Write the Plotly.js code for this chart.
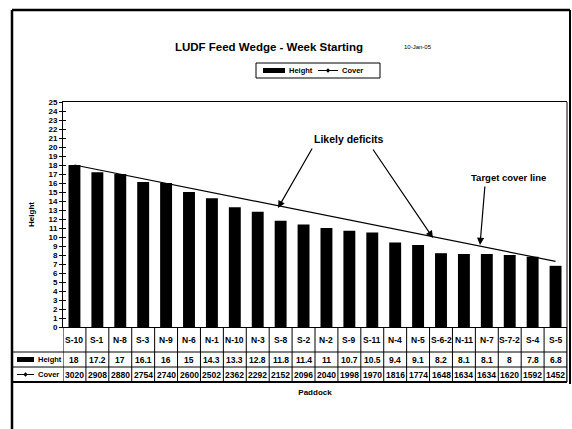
<!DOCTYPE html>
<html>
<head>
<meta charset="utf-8">
<script src="https://cdn.plot.ly/plotly-3.0.1.min.js"></script>
<style>html,body{margin:0;padding:0;background:#fff;}#chart{width:572px;height:429px;}</style>
</head>
<body>
<div id="chart"></div>
<script>
// ---- data ----
const paddocks = ['S-10','S-1','N-8','S-3','N-9','N-6','N-1','N-10','N-3','S-8','S-2','N-2','S-9','S-11','N-4','N-5','S-6-2','N-11','N-7','S-7-2','S-4','S-5'];
const heightVals = [18, 17.2, 17, 16.1, 16, 15, 14.3, 13.3, 12.8, 11.8, 11.4, 11, 10.7, 10.5, 9.4, 9.1, 8.2, 8.1, 8.1, 8, 7.8, 6.8];
const coverVals = [3020, 2908, 2880, 2754, 2740, 2600, 2502, 2362, 2292, 2152, 2096, 2040, 1998, 1970, 1816, 1774, 1648, 1634, 1634, 1620, 1592, 1452];
const targetCats = ['S-10', 'S-5'];
const targetVals = [18, 7.3];
const yTicks = Array.from({length: 26}, (_, i) => i);
const seriesNames = ['Height', 'Cover'];
const titleText = 'LUDF Feed Wedge - Week Starting';
const dateText = '10-Jan-05';

// ---- geometry helpers (pixel -> paper) ----
const L = 63, R = 567, T = 102, B = 327;
const px = X => (X - L) / (R - L);
const py = Y => (B - Y) / (B - T);

const FONT = 'Liberation Sans, Arial, sans-serif';
const NARROW = 'Liberation Sans Narrow, Arial Narrow, Liberation Sans, sans-serif';

const traces = [
  {type: 'bar', name: seriesNames[0], x: paddocks, y: heightVals, width: 0.52,
   marker: {color: '#000'}, hoverinfo: 'x+y'},
  {type: 'scatter', mode: 'lines', name: 'Target cover line', x: targetCats, y: targetVals,
   line: {color: '#000', width: 1.2}},
  {type: 'scatter', x: [paddocks[0]], y: [null], yaxis: 'y2', hoverinfo: 'skip'}
];

const shapes = [];
const line = (x0, y0, x1, y1, w, xref) => shapes.push({type: 'line', xref: xref || 'paper', yref: 'paper',
  x0: x0, y0: y0, x1: x1, y1: y1, line: {color: '#000', width: w}});
const diamond = (cx, cy, r) => shapes.push({type: 'path', xref: 'paper', yref: 'paper',
  path: `M ${px(cx)} ${py(cy - r)} L ${px(cx + r)} ${py(cy)} L ${px(cx)} ${py(cy + r)} L ${px(cx - r)} ${py(cy)} Z`,
  fillcolor: '#000', line: {width: 0}});
const box = (x0, y0, x1, y1) => shapes.push({type: 'rect', xref: 'paper', yref: 'paper',
  x0: px(x0), x1: px(x1), y0: py(y1), y1: py(y0), fillcolor: '#000', line: {width: 0}});

// outer frame
line(px(12), py(10), px(12), py(429), 2.5);
line(px(12), py(10), px(570), py(10), 2.5);
line(px(570), py(10), px(570), py(384), 2);
// table grid
for (let i = 0; i <= paddocks.length; i++) {
  line(i - 0.5, py(327), i - 0.5, py(382), 1, 'x');
}
line(px(L), py(352), px(R), py(352), 1);
line(px(12), py(352), px(L), py(352), 1);
line(px(12), py(367), px(R), py(367), 1);
line(px(12), py(382), px(R), py(382), 2);
line(px(R), py(T), px(R), py(382), 1);
// table row keys
box(17, 357, 34, 362);
line(px(17), py(374.5), px(34), py(374.5), 1);
diamond(25.5, 374.5, 2.2);
// legend box
shapes.push({type: 'rect', xref: 'paper', yref: 'paper', x0: px(256), x1: px(380), y0: py(78), y1: py(63),
  fillcolor: 'rgba(0,0,0,0)', line: {color: '#000', width: 1}});
box(263, 68, 285, 73);
line(px(318), py(70.5), px(338), py(70.5), 1);
diamond(328, 70.5, 2.2);

const annotations = [];
const ann = (o) => annotations.push(Object.assign({showarrow: false, xanchor: 'center', yanchor: 'middle',
  xref: 'paper', yref: 'paper'}, o));
const tFont = {family: NARROW, size: 8.5, color: '#000', weight: 'bold'};
paddocks.forEach((p, i) => {
  ann({x: p, xref: 'x', y: py(339.5), text: p, font: tFont});
  ann({x: p, xref: 'x', y: py(359.5), text: String(heightVals[i]), font: tFont});
  ann({x: p, xref: 'x', y: py(374.5), text: String(coverVals[i]), font: tFont});
});
const sFont = {family: FONT, size: 7.5, color: '#000', weight: 'bold'};
ann({x: px(36), xanchor: 'left', y: py(359.5), text: seriesNames[0], font: sFont});
ann({x: px(36), xanchor: 'left', y: py(374.5), text: seriesNames[1], font: sFont});
ann({x: px(287), xanchor: 'left', y: py(70.5), text: seriesNames[0], font: sFont});
ann({x: px(340), xanchor: 'left', y: py(70.5), text: seriesNames[1], font: sFont});
ann({x: px(402), xanchor: 'left', y: py(47), text: dateText, font: {family: NARROW, size: 6, color: '#000'}});
// callouts
ann({x: px(349), y: py(139), text: 'Likely deficits', font: {family: FONT, size: 10.5, color: '#000', weight: 'bold'}});
ann({x: px(508), y: py(177), text: 'Target cover line', font: {family: FONT, size: 9.5, color: '#000', weight: 'bold'}});
const arrow = (hx, hy, tx, ty) => annotations.push({x: px(hx), xref: 'paper', y: py(hy), yref: 'paper', text: '',
  showarrow: true, ax: tx - hx, ay: ty - hy, arrowhead: 2, arrowsize: 1.2, arrowwidth: 1.2, arrowcolor: '#000'});
arrow(278, 208, 313, 147);
arrow(433, 238, 372, 148);
arrow(480, 245, 485, 185);

const layout = {
  width: 572, height: 429,
  margin: {l: L, r: 572 - R, t: T, b: 429 - B},
  paper_bgcolor: '#fff', plot_bgcolor: '#fff',
  font: {family: FONT, color: '#000'},
  title: {text: titleText, x: 269 / 572, xanchor: 'center', y: 1 - 47 / 429, yanchor: 'middle',
    font: {family: FONT, size: 11.5, color: '#000', weight: 'bold'}},
  showlegend: false,
  xaxis: {type: 'category', range: [-0.5, paddocks.length - 0.5], showticklabels: false, ticks: '',
    showline: true, linecolor: '#000', linewidth: 1, mirror: true, showgrid: false, zeroline: false, fixedrange: true,
    title: {text: 'Paddock', standoff: 62, font: {family: FONT, size: 8, color: '#000', weight: 'bold'}}},
  yaxis: {range: [0, 25], tickvals: yTicks, ticktext: yTicks.map(String), ticks: 'outside', ticklen: 3,
    tickcolor: '#000', showline: true, linecolor: '#000', linewidth: 1, showgrid: false, zeroline: false,
    tickfont: {family: NARROW, size: 8, color: '#000', weight: 'bold'},
    title: {text: 'Height', standoff: 12, font: {family: FONT, size: 8, color: '#000', weight: 'bold'}}},
  yaxis2: {overlaying: 'y', range: [0, 25], tickvals: yTicks, ticks: 'inside', ticklen: 3, tickcolor: '#000',
    showticklabels: false, showline: false, showgrid: false, zeroline: false, side: 'left'},
  bargap: 0.48,
  shapes: shapes,
  annotations: annotations
};

Plotly.newPlot('chart', traces, layout, {displayModeBar: false, staticPlot: true});
</script>
</body>
</html>
